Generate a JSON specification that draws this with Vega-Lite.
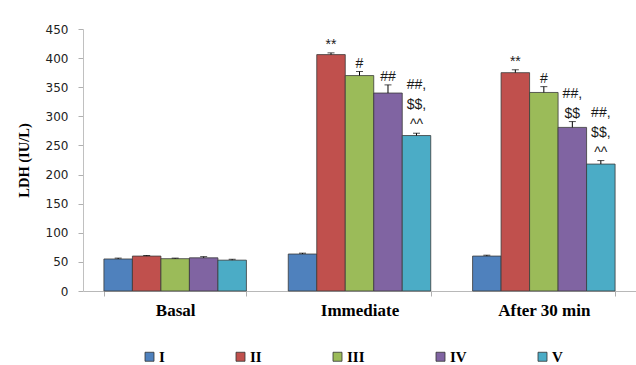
{
  "$schema": "https://vega.github.io/schema/vega-lite/v6.json",
  "autosize": "none",
  "width": 553,
  "height": 262,
  "padding": {"left": 83, "top": 29, "right": 0, "bottom": 74},
  "background": "white",
  "config": {
    "view": {"stroke": null},
    "axis": {"labelOverlap": false},
    "axisY": {
      "labelOverlap": false,
      "titleFont": "Liberation Serif", "titleFontWeight": "bold", "titleFontSize": 14.5, "titleColor": "#000", "titlePadding": 14,
      "labelFont": "DejaVu Sans", "labelFontSize": 12, "labelColor": "#222", "labelPadding": 10,
      "tickSize": 5, "tickColor": "#b0b0b0", "domainColor": "#c0c0c0", "grid": false
    }
  },
  "data": {"values": [
    {"time": "Basal", "group": "I", "mean": 55, "sd": 1.5, "sig": ""},
    {"time": "Basal", "group": "II", "mean": 60, "sd": 1, "sig": ""},
    {"time": "Basal", "group": "III", "mean": 55.5, "sd": 1, "sig": ""},
    {"time": "Basal", "group": "IV", "mean": 57, "sd": 2, "sig": ""},
    {"time": "Basal", "group": "V", "mean": 53, "sd": 1.5, "sig": ""},
    {"time": "Immediate", "group": "I", "mean": 63.5, "sd": 1.5, "sig": ""},
    {"time": "Immediate", "group": "II", "mean": 406, "sd": 3, "sig": "**"},
    {"time": "Immediate", "group": "III", "mean": 370, "sd": 7, "sig": "#"},
    {"time": "Immediate", "group": "IV", "mean": 340, "sd": 14, "sig": "##"},
    {"time": "Immediate", "group": "V", "mean": 267, "sd": 4, "sig": "##,\n$$,\n^^"},
    {"time": "After 30 min", "group": "I", "mean": 60, "sd": 1.5, "sig": ""},
    {"time": "After 30 min", "group": "II", "mean": 375, "sd": 5, "sig": "**"},
    {"time": "After 30 min", "group": "III", "mean": 341, "sd": 10, "sig": "#"},
    {"time": "After 30 min", "group": "IV", "mean": 281, "sd": 10, "sig": "##,\n$$"},
    {"time": "After 30 min", "group": "V", "mean": 218, "sd": 6, "sig": "##,\n$$,\n^^"}
  ]},
  "transform": [
    {"calculate": "datum.mean + datum.sd", "as": "top"},
    {"calculate": "datum.sig == '' ? 0 : length(split(datum.sig, '\\n'))", "as": "nlines"}
  ],
  "encoding": {
    "x": {
      "field": "time", "type": "nominal",
      "sort": ["Basal", "Immediate", "After 30 min"],
      "scale": {"paddingInner": 0.227, "paddingOuter": 0.1135},
      "axis": {
        "title": null, "labelAngle": 0,
        "labelFont": "Liberation Serif", "labelFontWeight": "bold", "labelFontSize": 17, "labelColor": "#000",
        "labelPadding": 6, "tickBand": "extent", "tickSize": 5, "tickColor": "#b0b0b0", "domainColor": "#b8b8b8"
      }
    },
    "xOffset": {
      "field": "group", "type": "nominal", "sort": ["I", "II", "III", "IV", "V"],
      "scale": {"paddingInner": 0, "paddingOuter": 0}
    }
  },
  "layer": [
    {
      "mark": {"type": "bar", "stroke": "#3a3a3a", "strokeWidth": 0.8},
      "encoding": {
        "y": {
          "field": "mean", "type": "quantitative",
          "scale": {"domain": [0, 450], "nice": false},
          "axis": {"values": [0, 50, 100, 150, 200, 250, 300, 350, 400, 450], "labelOverlap": false, "title": "LDH (IU/L)"}
        },
        "color": {
          "field": "group", "type": "nominal", "sort": ["I", "II", "III", "IV", "V"],
          "scale": {"domain": ["I", "II", "III", "IV", "V"], "range": ["#4F81BD", "#C0504D", "#9BBB59", "#8064A2", "#4BACC6"]},
          "legend": {
            "orient": "none", "legendX": 59, "legendY": 320, "direction": "horizontal", "columns": 5,
            "title": null, "symbolType": "square", "symbolSize": 81, "symbolStrokeColor": "#333", "symbolStrokeWidth": 0.8,
            "labelFont": "Liberation Serif", "labelFontWeight": "bold", "labelFontSize": 15, "labelColor": "#000",
            "labelOffset": 2, "columnPadding": 68
          }
        }
      }
    },
    {
      "mark": {"type": "rule", "color": "#000", "strokeWidth": 1},
      "encoding": {
        "y": {"field": "mean", "type": "quantitative", "axis": {"values": [0, 50, 100, 150, 200, 250, 300, 350, 400, 450], "labelOverlap": false, "title": "LDH (IU/L)"}},
        "y2": {"field": "top"}
      }
    },
    {
      "mark": {"type": "tick", "orient": "horizontal", "color": "#000", "size": 7, "thickness": 1},
      "encoding": {
        "y": {"field": "top", "type": "quantitative", "axis": {"values": [0, 50, 100, 150, 200, 250, 300, 350, 400, 450], "labelOverlap": false, "title": "LDH (IU/L)"}}
      }
    },
    {
      "transform": [{"filter": "datum.nlines == 1"}],
      "mark": {"type": "text", "baseline": "bottom", "dy": -1, "font": "Liberation Sans", "fontSize": 14, "lineBreak": "\n", "lineHeight": 20, "color": "#1a1a1a"},
      "encoding": {
        "y": {"field": "top", "type": "quantitative", "axis": {"values": [0, 50, 100, 150, 200, 250, 300, 350, 400, 450], "labelOverlap": false, "title": "LDH (IU/L)"}},
        "text": {"field": "sig"}
      }
    },
    {
      "transform": [{"filter": "datum.nlines == 2"}],
      "mark": {"type": "text", "baseline": "bottom", "dy": -21, "font": "Liberation Sans", "fontSize": 14, "lineBreak": "\n", "lineHeight": 20, "color": "#1a1a1a"},
      "encoding": {
        "y": {"field": "top", "type": "quantitative", "axis": {"values": [0, 50, 100, 150, 200, 250, 300, 350, 400, 450], "labelOverlap": false, "title": "LDH (IU/L)"}},
        "text": {"field": "sig"}
      }
    },
    {
      "transform": [{"filter": "datum.nlines == 3"}],
      "mark": {"type": "text", "baseline": "bottom", "dy": -41, "font": "Liberation Sans", "fontSize": 14, "lineBreak": "\n", "lineHeight": 20, "color": "#1a1a1a"},
      "encoding": {
        "y": {"field": "top", "type": "quantitative", "axis": {"values": [0, 50, 100, 150, 200, 250, 300, 350, 400, 450], "labelOverlap": false, "title": "LDH (IU/L)"}},
        "text": {"field": "sig"}
      }
    }
  ]
}
